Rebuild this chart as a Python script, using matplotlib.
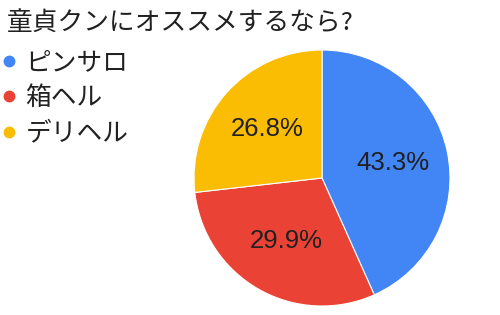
import matplotlib
matplotlib.use('Agg')
import matplotlib.pyplot as plt
from matplotlib.lines import Line2D

plt.rcParams['font.family'] = ['Noto Sans CJK JP', 'DejaVu Sans']

title = '童貞クンにオススメするなら?'
labels = ['ピンサロ', '箱ヘル', 'デリヘル']
values = [43.3, 29.9, 26.8]
colors = ['#4285F4', '#EA4335', '#FBBC04']

fig = plt.figure(figsize=(5, 3.15), dpi=100)

# pie axes: centre ~ (322, 178) px, radius ~128 px
ax = fig.add_axes([194 / 500, 9 / 315, 256 / 500, 256 / 315])
wedges, texts, autotexts = ax.pie(values, colors=colors, startangle=90, counterclock=False,
                                  autopct='%.1f%%', pctdistance=0.57,
                                  wedgeprops=dict(edgecolor='white', linewidth=0.8),
                                  textprops=dict(fontsize=18.5, color='#212121',
                                                 family='Liberation Sans'))
ax.set_xlim(-1, 1)
ax.set_ylim(-1, 1)
ax.set_aspect('equal')

fig.text(0.014, 1 - 23 / 315, title, fontsize=18.5, color='#212121', va='center', ha='left')

handles = [Line2D([], [], marker='o', linestyle='', markersize=7.5, color=c) for c in colors]
fig.legend(handles, labels, loc='upper left', bbox_to_anchor=(-0.003, 1 - 50 / 315),
           frameon=False, fontsize=18.5, handlelength=0.8, handletextpad=0.25,
           labelspacing=0.36, borderaxespad=0, borderpad=0, labelcolor='#212121')

fig.savefig('out.png', dpi=100)
